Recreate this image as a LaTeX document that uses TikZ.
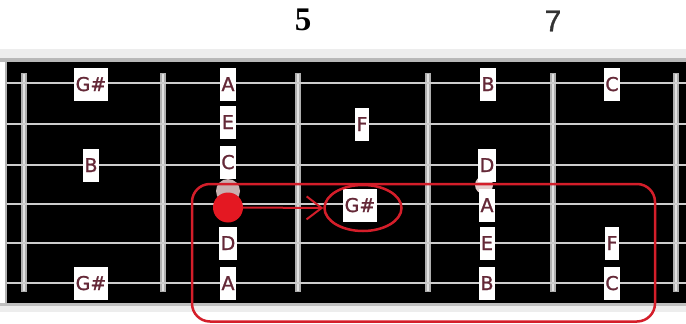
\documentclass[tikz,border=0pt]{standalone}
\usepackage{fontspec}
\setmainfont{DejaVu Sans}
\newfontfamily\notefont[FakeBold=1.2]{DejaVu Sans}
\newfontfamily\numfont[FakeBold=1]{Liberation Sans}
\newfontfamily\serifbold{Liberation Serif}
\usetikzlibrary{arrows.meta,shapes.geometric}
\definecolor{notecol}{RGB}{100,40,55}
\definecolor{redmk}{RGB}{228,24,34}
\definecolor{redln}{RGB}{212,30,42}
\definecolor{stringcol}{RGB}{205,205,205}
\definecolor{fretcol}{RGB}{175,175,175}
\definecolor{fretlite}{RGB}{225,225,225}
\definecolor{blobcol}{RGB}{222,196,196}
\begin{document}
\begin{tikzpicture}[x=1pt,y=-1pt,
  note/.style={fill=white, text=notecol, font=\notefont\fontsize{19}{19}\selectfont,
    inner xsep=1.5pt, inner ysep=0pt, minimum height=33pt,
    text height=14pt, text depth=0pt},
  fretnum/.style={inner sep=0pt},
  stringline/.style={draw=stringcol, line width=2pt},
  markline/.style={draw=redln, line width=2.5pt},
  blob/.style={fill=blobcol, opacity=0.9}]
\useasboundingbox (0,0) rectangle (686,324);
% background bands
\fill[white] (0,0) rectangle (686,324);
\fill[black!7] (0,49) rectangle (686,58);
\fill[black!28] (0,58) rectangle (686,62);
\fill[black] (7,62) rectangle (686,303);
\fill[black!25] (0,303) rectangle (686,306);
\fill[black!7] (0,306) rectangle (686,312);
\fill[black!30] (5,62) rectangle (7,303);
% fret numbers
\node[fretnum, font=\serifbold\bfseries\fontsize{33}{33}\selectfont] (f5) at (303,20) {5};
\node[fretnum, font=\numfont\fontsize{30}{30}\selectfont, text=black!80] (f7) at (553,21) {7};
% frets
\foreach \x in {24,163,298,428,553,676}{
  \fill[fretcol] (\x-3,73) rectangle (\x+3,292);
  \fill[fretlite] (\x-1.5,74) rectangle (\x+0.5,291);
}
% strings
\draw[stringline, line width=1.5pt] (7,83) -- (686,83);
\foreach \y in {124,165,204,243,283}{
  \draw[stringline] (7,\y) -- (686,\y);
}
% faint marks
\fill[blob] (228,191) circle (12);
\fill[blob, fill=white!90!red] (484,185) circle (9);
% notes
\node[note] (gs1) at (91,84) {G\#};
\node[note] (b3) at (91,165) {B};
\node[note] (gs6) at (91,283) {G\#};
\node[note] (a1) at (228,84) {A};
\node[note] (e2) at (228,122) {E};
\node[note] (c3) at (228,162) {C};
\node[note] (d5) at (228,243) {D};
\node[note] (a6) at (228,283) {A};
\node[note] (f2) at (362,124) {F};
\node[note] (gs4) at (360,205) {G\#};
\node[note] (b1) at (488,84) {B};
\node[note] (d3) at (487,165) {D};
\node[note] (a4) at (487,205) {A};
\node[note] (e5) at (487,243) {E};
\node[note] (b6) at (487,283) {B};
\node[note] (c1) at (612,84) {C};
\node[note] (f5n) at (612,243) {F};
\node[note] (c6) at (612,283) {C};
% red box
\draw[markline, rounded corners=18pt] (192,184) rectangle (655,321.5);
% dot, ring, arrow
\node[circle, fill=redmk, minimum size=30pt, inner sep=0pt] (dot) at (228,207.5) {};
\node[ellipse, draw=redln, line width=2.5pt, minimum width=77pt, minimum height=46pt, inner sep=0pt] (ring) at (363,208) {};
\draw[draw=redln, line width=2pt, -{Straight Barb[length=15pt,width=23pt]}] (dot.east) -- (ring.west);
\end{tikzpicture}
\end{document}
